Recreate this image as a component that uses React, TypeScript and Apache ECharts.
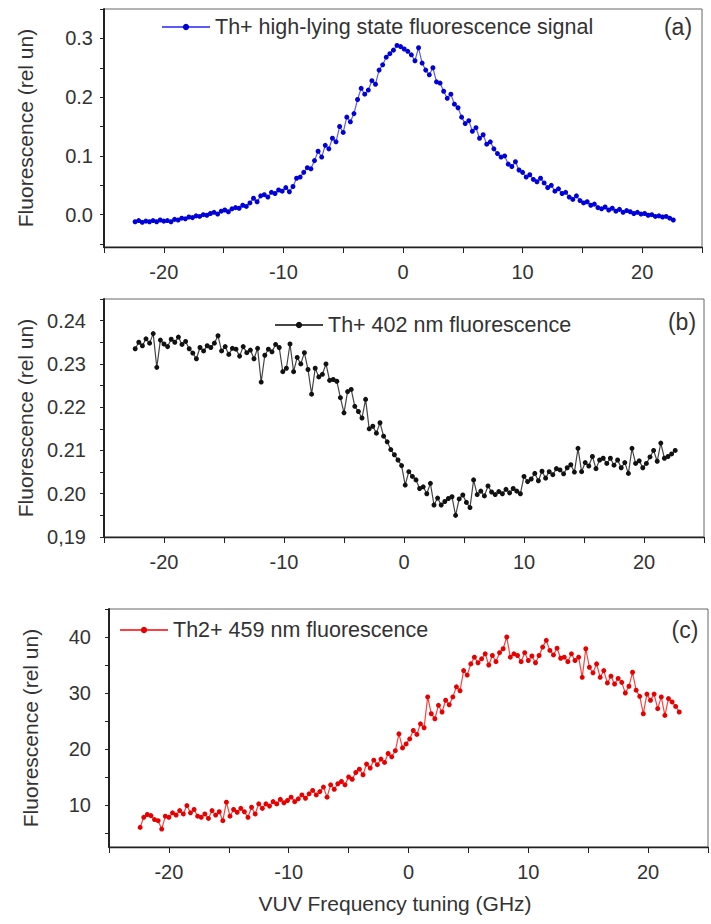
import React, { useEffect, useRef } from "react";
import * as echarts from "echarts";

// Frequency grid (GHz)
const FREQ = [
  -22.4, -22.1, -21.8, -21.5, -21.2, -20.9, -20.6, -20.3, -20.0, -19.7,
  -19.4, -19.1, -18.8, -18.5, -18.2, -17.9, -17.6, -17.3, -17.0, -16.7,
  -16.4, -16.1, -15.8, -15.5, -15.2, -14.9, -14.6, -14.3, -14.0, -13.7,
  -13.4, -13.1, -12.8, -12.5, -12.2, -11.9, -11.6, -11.3, -11.0, -10.7,
  -10.4, -10.1, -9.8, -9.5, -9.2, -8.9, -8.6, -8.3, -8.0, -7.7,
  -7.4, -7.1, -6.8, -6.5, -6.2, -5.9, -5.6, -5.3, -5.0, -4.7,
  -4.4, -4.1, -3.8, -3.5, -3.2, -2.9, -2.6, -2.3, -2.0, -1.7,
  -1.4, -1.1, -0.8, -0.5, -0.2, 0.1, 0.4, 0.7, 1.0, 1.3,
  1.6, 1.9, 2.2, 2.5, 2.8, 3.1, 3.4, 3.7, 4.0, 4.3,
  4.6, 4.9, 5.2, 5.5, 5.8, 6.1, 6.4, 6.7, 7.0, 7.3,
  7.6, 7.9, 8.2, 8.5, 8.8, 9.1, 9.4, 9.7, 10.0, 10.3,
  10.6, 10.9, 11.2, 11.5, 11.8, 12.1, 12.4, 12.7, 13.0, 13.3,
  13.6, 13.9, 14.2, 14.5, 14.8, 15.1, 15.4, 15.7, 16.0, 16.3,
  16.6, 16.9, 17.2, 17.5, 17.8, 18.1, 18.4, 18.7, 19.0, 19.3,
  19.6, 19.9, 20.2, 20.5, 20.8, 21.1, 21.4, 21.7, 22.0, 22.3,
  22.6,
];

// (a) Th+ high-lying state fluorescence signal
const SIGNAL_A = [
  -0.012, -0.010, -0.013, -0.011, -0.012, -0.010, -0.012, -0.009, -0.011, -0.010,
  -0.012, -0.008, -0.009, -0.006, -0.007, -0.004, -0.005, -0.002, -0.003, 0.000,
  -0.001, 0.002, 0.004, 0.001, 0.006, 0.008, 0.005, 0.010, 0.012, 0.011,
  0.016, 0.014, 0.020, 0.028, 0.022, 0.032, 0.034, 0.030, 0.038, 0.036,
  0.042, 0.040, 0.046, 0.039, 0.048, 0.062, 0.064, 0.072, 0.080, 0.078,
  0.092, 0.108, 0.098, 0.118, 0.112, 0.130, 0.124, 0.150, 0.140, 0.166,
  0.158, 0.172, 0.196, 0.215, 0.205, 0.212, 0.228, 0.222, 0.246, 0.255,
  0.268, 0.274, 0.280, 0.288, 0.286, 0.282, 0.278, 0.272, 0.262, 0.284,
  0.258, 0.246, 0.238, 0.250, 0.226, 0.224, 0.210, 0.198, 0.205, 0.188,
  0.182, 0.166, 0.155, 0.160, 0.142, 0.148, 0.130, 0.136, 0.120, 0.124,
  0.112, 0.104, 0.098, 0.100, 0.086, 0.082, 0.090, 0.076, 0.072, 0.064,
  0.068, 0.060, 0.056, 0.062, 0.054, 0.046, 0.050, 0.040, 0.044, 0.036,
  0.038, 0.030, 0.026, 0.032, 0.024, 0.020, 0.022, 0.016, 0.018, 0.012,
  0.010, 0.013, 0.008, 0.011, 0.006, 0.009, 0.004, 0.007, 0.005, 0.002,
  0.004, 0.001, 0.002, -0.001, 0.000, -0.003, -0.002, -0.004, -0.003, -0.006,
  -0.009,
];

// (b) Th+ 402 nm fluorescence
const SIGNAL_B = [
  0.2335, 0.2350, 0.2342, 0.2358, 0.2348, 0.2370, 0.2292, 0.2355, 0.2346, 0.2340,
  0.2357, 0.2350, 0.2362, 0.2345, 0.2352, 0.2335, 0.2325, 0.2312, 0.2338, 0.2330,
  0.2342, 0.2338, 0.2348, 0.2365, 0.2330, 0.2340, 0.2322, 0.2336, 0.2334, 0.2318,
  0.2340, 0.2326, 0.2332, 0.2312, 0.2336, 0.2258, 0.2320, 0.2334, 0.2328, 0.2345,
  0.2338, 0.2282, 0.2290, 0.2346, 0.2282, 0.2315, 0.2300, 0.2326, 0.2287, 0.2230,
  0.2290, 0.2270, 0.2276, 0.2300, 0.2262, 0.2264, 0.2260, 0.2222, 0.2187, 0.2236,
  0.2241, 0.2202, 0.2190, 0.2175, 0.2218, 0.2150, 0.2156, 0.2140, 0.2164, 0.2133,
  0.2120, 0.2102, 0.2090, 0.2078, 0.2065, 0.2020, 0.2051, 0.2040, 0.2032, 0.2012,
  0.2016, 0.2000, 0.2024, 0.1974, 0.1990, 0.1974, 0.1982, 0.1989, 0.1993, 0.1950,
  0.1988, 0.1997, 0.1980, 0.1968, 0.2032, 0.1998, 0.2006, 0.1995, 0.2018, 0.2004,
  0.1998, 0.2005, 0.2000, 0.2010, 0.2002, 0.2012, 0.2006, 0.2000, 0.2040, 0.2028,
  0.2034, 0.2047, 0.2030, 0.2052, 0.2036, 0.2051, 0.2044, 0.2058, 0.2055, 0.2046,
  0.2060, 0.2067, 0.2050, 0.2105, 0.2051, 0.2072, 0.2064, 0.2086, 0.2058, 0.2078,
  0.2082, 0.2070, 0.2082, 0.2066, 0.2078, 0.2060, 0.2072, 0.2047, 0.2105, 0.2070,
  0.2076, 0.2060, 0.2070, 0.2085, 0.2100, 0.2075, 0.2117, 0.2082, 0.2086, 0.2092,
  0.2100,
];

// (c) Th2+ 459 nm fluorescence
const SIGNAL_C = [
  6.0, 7.8, 8.3, 8.1, 7.4, 7.2, 5.7, 8.0, 7.8, 8.6,
  8.2, 9.0, 8.4, 9.9, 8.6, 9.2, 8.0, 7.8, 8.4, 7.6,
  9.0, 8.2, 8.8, 7.2, 10.5, 8.0, 9.2, 8.7, 9.4, 8.8,
  7.8, 9.6, 8.4, 10.2, 9.4, 10.2, 9.8, 10.6, 10.2, 11.0,
  10.4, 10.8, 11.4, 10.6, 11.1, 11.8, 11.2, 12.0, 12.6, 11.8,
  12.4, 13.2, 11.4, 13.6, 12.8, 13.8, 14.2, 13.6, 15.0, 14.6,
  15.8, 16.4, 15.4, 17.3, 16.6, 18.0, 17.2, 18.2, 17.6, 19.2,
  18.6, 19.7, 22.7, 20.2, 20.9, 21.8, 23.3, 22.6, 24.5, 23.8,
  29.3, 26.3, 25.4, 27.8, 26.6, 28.7, 27.9, 29.3, 31.1, 30.4,
  34.0, 33.2, 35.2, 36.4, 35.4, 36.1, 37.0, 35.0, 36.7, 35.6,
  37.2, 37.9, 40.0, 36.4, 37.0, 36.7, 35.6, 37.2, 35.8, 36.6,
  35.4, 36.7, 38.2, 39.4, 37.6, 36.8, 38.0, 36.2, 36.4, 35.6,
  37.0, 35.8, 36.4, 32.8, 37.9, 34.6, 33.6, 35.2, 32.8, 34.0,
  31.8, 33.0, 31.6, 32.6, 31.9, 30.0, 31.2, 33.7, 30.5, 29.4,
  26.3, 29.8, 28.7, 29.8, 27.2, 29.3, 26.0, 29.0, 28.4, 27.6,
  26.6,
];

const X_LABELS = [-20, -10, 0, 10, 20];
const X_TICKS = [-25, -20, -15, -10, -5, 0, 5, 10, 15, 20, 25];
const A_LABELS = [0, 0.1, 0.2, 0.3];
const A_TICKS = [-0.05, 0, 0.05, 0.1, 0.15, 0.2, 0.25, 0.3, 0.35];
const B_LABELS = [0.19, 0.2, 0.21, 0.22, 0.23, 0.24];
const B_TICKS = [0.19, 0.195, 0.2, 0.205, 0.21, 0.215, 0.22, 0.225, 0.23, 0.235, 0.24, 0.245];
const C_LABELS = [10, 20, 30, 40];
const C_TICKS = [5, 10, 15, 20, 25, 30, 35, 40, 45];

const NAME_A = "Th+ high-lying state fluorescence signal";
const NAME_B = "Th+ 402 nm fluorescence";
const NAME_C = "Th2+ 459 nm fluorescence";
const Y_NAME = "Fluorescence (rel un)";
const X_NAME = "VUV Frequency tuning (GHz)";

const FONT = "'Liberation Sans', Arial, sans-serif";
const TEXT = "#333";
const AXIS = "#222";

function xAxisFor(gridIndex: number) {
  return {
    type: "value",
    gridIndex,
    min: -25,
    max: 25,
    axisLine: { show: true, onZero: false, lineStyle: { color: AXIS, width: 1.3 } },
    axisTick: { show: true, inside: false, length: 6, customValues: X_TICKS, lineStyle: { color: AXIS } },
    axisLabel: {
      customValues: X_LABELS,
      margin: 15,
      fontSize: 20,
      fontFamily: FONT,
      color: TEXT,
    },
    splitLine: { show: false },
  };
}

function yAxisFor(
  gridIndex: number,
  min: number,
  max: number,
  labels: number[],
  ticks: number[],
  fmt: (v: number) => string,
  margin: number
) {
  return {
    type: "value",
    gridIndex,
    min,
    max,
    name: Y_NAME,
    nameLocation: "middle",
    nameGap: 68,
    nameTextStyle: { fontSize: 21, fontFamily: FONT, color: TEXT },
    axisLine: { show: true, onZero: false, lineStyle: { color: AXIS, width: 2 } },
    axisTick: { show: true, inside: false, length: 4, customValues: ticks, lineStyle: { color: AXIS } },
    axisLabel: {
      customValues: labels,
      formatter: fmt,
      margin,
      fontSize: 20,
      fontFamily: FONT,
      color: TEXT,
    },
    splitLine: { show: false },
  };
}

function legendFor(name: string, left: number, top: number) {
  return {
    data: [name],
    left,
    top,
    itemWidth: 48,
    itemHeight: 8,
    itemGap: 5,
    padding: 0,
    textStyle: { fontSize: 21.5, fontFamily: FONT, color: TEXT },
  };
}

export default function App() {
  const ref = useRef<HTMLDivElement>(null);

  useEffect(() => {
    if (!ref.current) return;
    const chart = echarts.init(ref.current, undefined, { renderer: "svg" });
    const pairs = (ys: number[]) => FREQ.map((x, i) => [x, ys[i]]);

    const option = {
      animation: false,
      backgroundColor: "#ffffff",
      grid: [
        { left: 104, top: 9, width: 598, height: 238, show: true, borderColor: "#666", borderWidth: 1, backgroundColor: "transparent" },
        { left: 104, top: 299, width: 600, height: 238, show: true, borderColor: "#666", borderWidth: 1, backgroundColor: "transparent" },
        { left: 109, top: 609, width: 599, height: 238, show: true, borderColor: "#666", borderWidth: 1, backgroundColor: "transparent" },
      ],
      xAxis: [xAxisFor(0), xAxisFor(1), xAxisFor(2)],
      yAxis: [
        yAxisFor(0, -0.055, 0.35, A_LABELS, A_TICKS, (v: number) => v.toFixed(1), 11),
        yAxisFor(1, 0.19, 0.245, B_LABELS, B_TICKS, (v: number) => (Math.abs(v - 0.19) < 1e-9 ? "0,19" : v.toFixed(2)), 18),
        yAxisFor(2, 2.5, 45, C_LABELS, C_TICKS, (v: number) => String(Math.round(v)), 18),
      ],
      legend: [
        legendFor(NAME_A, 161, 16),
        legendFor(NAME_B, 274, 314),
        legendFor(NAME_C, 119, 619),
      ],
      graphic: [
        { type: "text", x: 678, y: 27, style: { text: "(a)", fontSize: 23, fontFamily: FONT, fill: TEXT, align: "center", verticalAlign: "middle" } },
        { type: "text", x: 682, y: 322, style: { text: "(b)", fontSize: 23, fontFamily: FONT, fill: TEXT, align: "center", verticalAlign: "middle" } },
        { type: "text", x: 685, y: 630, style: { text: "(c)", fontSize: 23, fontFamily: FONT, fill: TEXT, align: "center", verticalAlign: "middle" } },
        { type: "text", x: 395, y: 903, style: { text: X_NAME, fontSize: 21, fontFamily: FONT, fill: TEXT, align: "center", verticalAlign: "middle" } },
      ],
      series: [
        {
          name: NAME_A,
          type: "line",
          xAxisIndex: 0,
          yAxisIndex: 0,
          data: pairs(SIGNAL_A),
          symbol: "circle",
          symbolSize: 5,
          lineStyle: { color: "#5a5aff", width: 1.2 },
          itemStyle: { color: "#0000d8" },
          z: 3,
        },
        {
          name: NAME_B,
          type: "line",
          xAxisIndex: 1,
          yAxisIndex: 1,
          data: pairs(SIGNAL_B),
          symbol: "circle",
          symbolSize: 5,
          lineStyle: { color: "#444444", width: 1.2 },
          itemStyle: { color: "#111111" },
          z: 3,
        },
        {
          name: NAME_C,
          type: "line",
          xAxisIndex: 2,
          yAxisIndex: 2,
          data: pairs(SIGNAL_C),
          symbol: "circle",
          symbolSize: 5,
          lineStyle: { color: "#ff4040", width: 1.2 },
          itemStyle: { color: "#e80000" },
          z: 3,
        },
      ],
    };

    chart.setOption(option as any);
    return () => chart.dispose();
  }, []);

  return (
    <div
      ref={ref}
      style={{ position: "fixed", left: 0, top: 0, width: 711, height: 924, background: "#fff" }}
    />
  );
}
